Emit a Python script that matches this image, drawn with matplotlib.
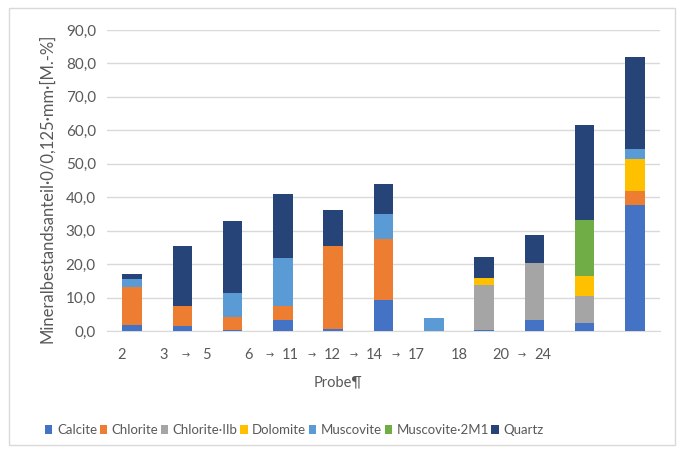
import numpy as np
import matplotlib
matplotlib.use("Agg")
import matplotlib.pyplot as plt
from matplotlib.patches import Rectangle

plt.rcParams['font.family'] = ['Lato', 'DejaVu Sans']

# Proben und Mineralanteile [M.-%]
proben = ["2", "3", "5", "6", "11", "12", "14", "17", "18", "20", "24"]
calcite      = [1.8, 1.4, 0.3, 3.4, 0.5, 9.3, 0.0, 0.4, 3.2, 2.4, 37.8]
chlorite     = [11.3, 6.2, 3.8, 4.2, 24.8, 18.1, 0.0, 0.0, 0.0, 0.0, 4.1]
chlorite_iib = [0.0, 0.0, 0.0, 0.0, 0.0, 0.0, 0.0, 13.4, 17.2, 8.2, 0.0]
dolomite     = [0.0, 0.0, 0.0, 0.0, 0.0, 0.0, 0.0, 2.0, 0.0, 5.9, 9.4]
muscovite    = [2.3, 0.0, 7.4, 14.3, 0.0, 7.6, 4.0, 0.0, 0.0, 0.0, 3.2]
muscovite2m1 = [0.0, 0.0, 0.0, 0.0, 0.0, 0.0, 0.0, 0.0, 0.0, 16.6, 0.0]
quartz       = [1.5, 17.9, 21.5, 19.0, 10.9, 9.1, 0.0, 6.4, 8.4, 28.5, 27.4]

serien = ["Calcite", "Chlorite", "Chlorite\u00b7IIb", "Dolomite",
          "Muscovite", "Muscovite\u00b72M1", "Quartz"]
farben = ["#4472C4", "#ED7D31", "#A5A5A5", "#FFC000",
          "#5B9BD5", "#70AD47", "#264478"]
# Tabulator-Pfeile in der Achsenbeschriftung (nach welcher Probe)
pfeil_nach = ["3", "6", "11", "12", "14", "20"]

W, H = 681, 450
fig = plt.figure(figsize=(W / 100, H / 100), dpi=100)
ax = fig.add_axes([107 / W, 1 - 331 / H, (660 - 107) / W, (331 - 30) / H])

# Rahmen des Diagrammbereichs
fig.patches.append(Rectangle((9 / W, 5 / H), 666 / W, 437 / H, transform=fig.transFigure,
                             fill=False, edgecolor="#D9D9D9", linewidth=1))

x = np.arange(len(proben))
unten = np.zeros(len(proben))
for name, werte, farbe in zip(serien, [calcite, chlorite, chlorite_iib, dolomite,
                                        muscovite, muscovite2m1, quartz], farben):
    werte = np.array(werte)
    ax.bar(x, werte, 0.39, bottom=unten, color=farbe, label=name, zorder=3)
    unten += werte

ax.set_ylim(0, 90)
ax.set_xlim(-0.5, len(proben) - 0.5)
ax.set_yticks(np.arange(0, 91, 10))
ax.set_yticklabels([f"{v:.1f}".replace(".", ",") for v in np.arange(0, 91, 10)],
                   fontsize=11, color="#595959")
ax.tick_params(axis="y", length=0, pad=8)
ax.set_xticks(x)
ax.set_xticklabels([])
ax.tick_params(axis="x", length=0)
ax.yaxis.grid(True, color="#D9D9D9", linewidth=1, zorder=0)
for s in ["top", "right", "left"]:
    ax.spines[s].set_visible(False)
ax.spines["bottom"].set_color("#D9D9D9")

# Achsenbeschriftung wie im Word-Dokument (Tabstopps)
for i, p in enumerate(proben):
    px = 122 + 42.1 * i
    fig.text(px / W, 1 - 355 / H, p, ha="center", va="center", fontsize=10.5, color="#595959")
    if p in pfeil_nach:
        fig.text((px + 21) / W, 1 - 355 / H, "\u2192", ha="center", va="center",
                 fontsize=7, color="#595959", family=["DejaVu Sans"])

fig.text(338 / W, 1 - 382 / H, "Probe\u00b6", ha="center", va="center", fontsize=10.5, color="#595959")
fig.text(47 / W, 1 - 188 / H, "Mineralbestandsanteil\u00b70/0,125\u00b7mm\u00b7[M.-%]",
         rotation=90, ha="center", va="center", fontsize=12, color="#595959")

fig.legend(loc="center left", bbox_to_anchor=(45 / W, 1 - 430 / H), ncol=7, frameon=False,
           fontsize=9.5, handlelength=0.55, handleheight=0.6, handletextpad=0.35,
           columnspacing=0.2, labelcolor="#595959", borderaxespad=0, borderpad=0)

fig.savefig("out.png", dpi=100)
